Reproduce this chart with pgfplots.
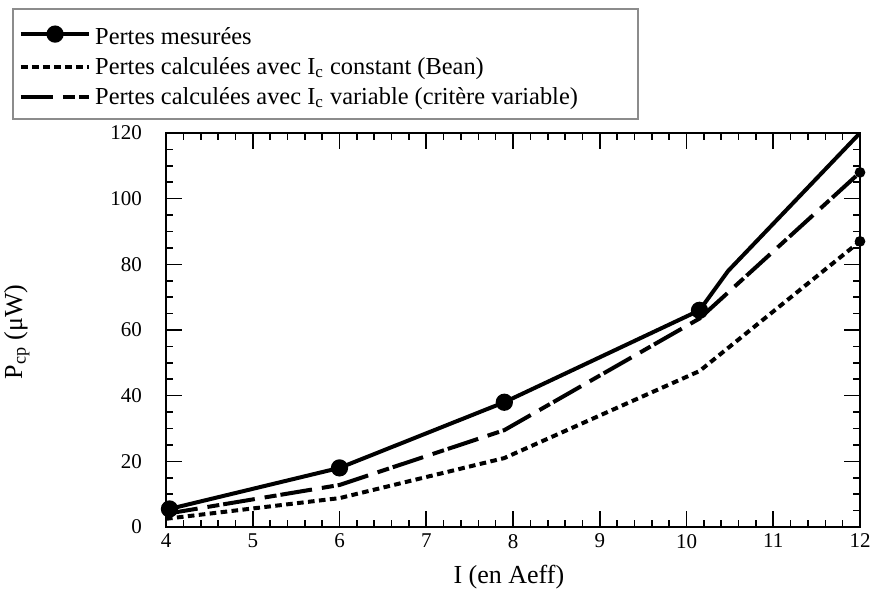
\documentclass[border=0pt]{standalone}
\usepackage{fontspec}
\setmainfont{Liberation Serif}
\usepackage{pgfplots}
\pgfplotsset{compat=1.18}

\begin{document}
\begin{tikzpicture}
  \path[use as bounding box] (0pt,0pt) rectangle (435pt,297.5pt);

  \begin{axis}[
      at={(83pt,34pt)}, anchor=south west,
      scale only axis,
      width=347pt,
      height=197pt,
      xmin=4, xmax=12,
      ymin=0, ymax=120,
      xtick={4,5,...,12},
      ytick={0,20,...,120},
      minor x tick num=4,
      minor y tick num=3,
      tick align=inside,
      major tick length=8pt,
      minor tick length=3.5pt,
      axis line style={line width=1.2pt},
      every tick/.style={black, line width=0.8pt},
      /pgf/number format/assume math mode=true,
      tick label style={font=\fontsize{10.5}{12}\selectfont},
      yticklabel={\pgfmathprintnumber{\tick}\kern8.5pt},
      xlabel={I (en Aeff)},
      ylabel={P\textsubscript{cp} (μW)},
      every axis x label/.style={at={(axis description cs:0.494,-0.127)}, anchor=center,
        font=\fontsize{13}{15}\selectfont},
      every axis y label/.style={at={(axis description cs:-0.215,0.495)}, rotate=90, anchor=center,
        font=\fontsize{13}{15}\selectfont},
      legend image code/.code={\draw[#1] plot coordinates {(0cm,0cm)(0.6cm,0cm)(1.2cm,0cm)};},
      legend style={
        at={(axis description cs:-0.222,1.317)}, anchor=north west,
        draw=black!45, line width=1pt, fill=white,
        font=\fontsize{12.2}{14}\selectfont,
        inner xsep=3pt, inner ysep=4pt,
        row sep=1pt,
        legend cell align=left,
      },
    ]

    % Pertes mesurees
    \addplot[black, line width=2pt, mark=*, mark size=3.3pt, mark indices={1,2,3,4},
      legend image post style={mark indices={2}}]
      coordinates {(4.04,5.5) (6,18) (7.9,38) (10.15,66) (10.48,78) (12,120)};
    \addlegendentry{\rule{0pt}{11.5pt}Pertes mesurées}

    % Bean (Ic constant)
    \addplot[black, line width=2pt, dash pattern=on 3.3pt off 2.2pt,
      mark=*, mark size=1.6pt, mark indices={5}, mark options={solid}]
      coordinates {(4,2.5) (6,8.8) (7.9,21) (10.15,47.5) (12,87)};
    \addlegendentry{Pertes calculées avec I\textsubscript{c} constant (Bean)}

    % Ic variable
    \addplot[black, line width=2pt, dash pattern=on 16pt off 5pt on 6pt off 2pt,
      mark=*, mark size=1.6pt, mark indices={5}, mark options={solid}]
      coordinates {(4,4) (6,12.8) (7.9,29.5) (10.15,63.5) (12,108)};
    \addlegendentry{Pertes calculées avec I\textsubscript{c} variable (critère variable)\rule{25pt}{0pt}}

  \end{axis}
\end{tikzpicture}
\end{document}
